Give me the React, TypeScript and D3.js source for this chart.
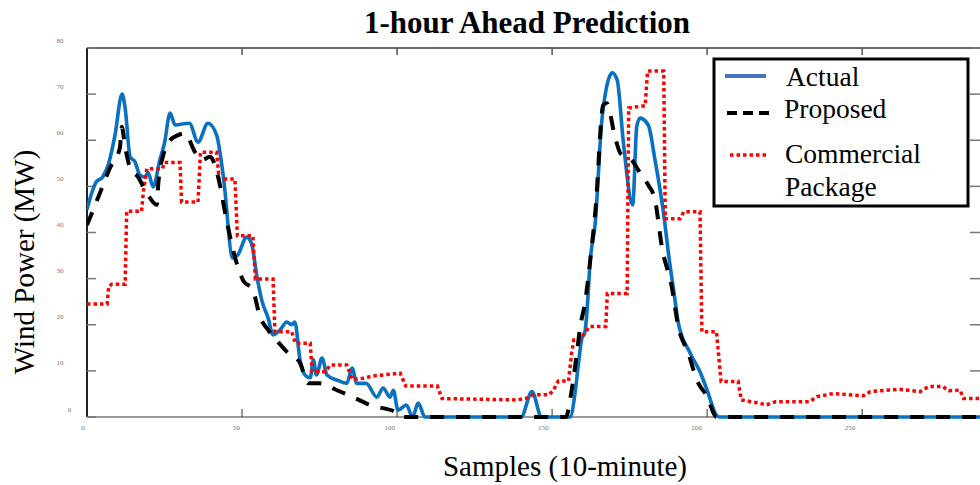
import React from "react";
import * as d3 from "d3";

// ---- Data (sample index, MW) ----
const actualX = [0, 1.5, 3, 5, 7, 9, 11.3, 12.3, 13.9, 15.5, 17, 18.7, 19.7, 21.3, 23.5, 25, 26.8, 28.4, 33, 35.8, 39, 41.8, 44, 47, 48.6, 51.5, 53, 55, 56.5, 58.4, 60, 62.3, 64.4, 66, 67, 68.7, 70.3, 72, 73, 74, 75.8, 77.4, 80.6, 83.8, 85.5, 87, 90, 93.5, 95.5, 97.7, 98.8, 100.3, 103, 105, 106.8, 109, 140, 143.5, 146.6, 155.8, 157.4, 158.5, 159.6, 160.6, 161.2, 162.3, 163.9, 166, 167.6, 169.4, 171, 173, 176, 177.3, 178.4, 181, 183.2, 185.8, 188, 189.3, 190.7, 194.5, 197.7, 200, 203, 204, 288];
const actualY = [45, 48.5, 51, 52, 55, 61, 70, 67, 56.4, 55.3, 52.5, 52, 53, 49.9, 55.7, 59.4, 65.9, 63.3, 63.7, 59.6, 63.7, 61.1, 52, 34.5, 35.1, 39, 37.7, 29.7, 25, 21.5, 17.8, 18.9, 20.6, 20, 20.6, 12.4, 9.1, 8.5, 12.4, 9.1, 12.8, 9.1, 8, 7.3, 10.6, 7.3, 7.3, 4.3, 6.3, 4.3, 5.8, 1.5, 2.6, 0, 3, 0, 0, 5.5, 0, 0, 5.2, 11.6, 17.1, 18.5, 22.5, 34, 42, 64, 71.6, 74.6, 73, 59.4, 46, 63, 64.8, 63.3, 55.7, 44.9, 33, 27, 20.4, 13.9, 9.8, 5.8, 0.4, 0, 0];

const proposedX = [0, 4.2, 7.4, 10.6, 11.2, 12.3, 13.9, 16.5, 18.7, 20.3, 22.5, 23, 24.6, 26.8, 29, 31.6, 34.8, 37, 39.7, 42.3, 45, 47.7, 50.3, 53.5, 55.8, 58.4, 63, 64.5, 68.7, 71.3, 75, 80.6, 85.8, 91.3, 100, 102, 154.5, 155.8, 156.8, 158, 159, 160.6, 162.3, 164, 166.5, 167.6, 170.3, 172, 175.7, 178.4, 181, 183.2, 185.4, 188.6, 190.7, 193.9, 196.7, 200, 203, 288];
const proposedY = [41.6, 48.6, 54, 58.3, 62.9, 58.6, 54, 52, 49.2, 47.5, 46, 50.7, 56.8, 60, 61, 61.5, 57.5, 55.7, 56.4, 52, 42.7, 34.7, 29.7, 27.5, 21.7, 18.9, 15.2, 14.1, 11.7, 7.3, 7.3, 5.8, 4.3, 2.6, 0.9, 0, 0, 3.7, 8, 13.9, 19.3, 24.7, 34, 45, 67.6, 68, 60.7, 57.2, 55.7, 52.9, 50.3, 47, 36.9, 28.2, 19.6, 13.9, 8, 4.4, 0, 0];

const commercialX = [0, 6.5, 7, 8, 12.3, 12.8, 17.6, 18.2, 19.3, 24.3, 25, 30, 30.5, 35.8, 36.6, 41.8, 42.6, 47.7, 48.5, 53.5, 54.3, 60, 60.6, 66, 67.2, 72, 72.6, 76.8, 78.5, 83.8, 85.5, 89, 92.3, 101, 102.8, 113, 114.5, 138.6, 142, 144, 149, 150.4, 152, 155.3, 156.3, 157, 159, 160.6, 162, 167.3, 167.8, 174.2, 174.7, 180, 180.8, 186, 186.5, 191.3, 192.5, 197.7, 198.3, 203, 204.5, 210, 211, 217, 219, 222, 233, 235.4, 240.8, 250.4, 252.6, 262, 268.7, 271.4, 276, 277.9, 281.6, 282.7, 288];
const commercialY = [24.5, 24.5, 28.3, 28.8, 28.8, 44.6, 44.6, 49, 53.8, 53.8, 55.2, 55.2, 46.6, 46.6, 57.4, 57.4, 51.6, 51.6, 39.3, 39.3, 29.9, 29.9, 18.5, 18.5, 16, 16, 9.8, 9.8, 11.3, 11.3, 8.2, 8.4, 8.9, 9.5, 6.7, 6.7, 4, 3.7, 4.1, 4.8, 4.8, 5.8, 7.8, 7.8, 13.9, 16.7, 16.7, 18.2, 19.6, 19.6, 26.8, 26.8, 67, 67.5, 75, 75, 43, 43, 44.5, 44.5, 18.5, 18.5, 7.7, 7.7, 3.7, 3, 2.6, 3.3, 3.3, 4.4, 5.1, 4.6, 5.5, 6, 5.5, 6.6, 6.6, 5.7, 5.8, 4, 4];

const xTicks = [0, 50, 100, 150, 200, 250];
const yTicks = [0, 10, 20, 30, 40, 50, 60, 70, 80];
const legendLabels = ["Actual", "Proposed", "Commercial", "Package"];
const titleText = "1-hour Ahead Prediction";
const xLabel = "Samples (10-minute)";
const yLabel = "Wind Power (MW)";

const W = 980;
const H = 485;
const L = 87, R = 980, T = 48, B = 417;

export default function App() {
  const x = d3.scaleLinear().domain([0, 288]).range([L, R]);
  const y = d3.scaleLinear().domain([0, 80]).range([B, T]);
  // tick labels in the source are slightly offset from ticks
  const xLab = d3.scaleLinear().domain([0, 250]).range([83, 850]);

  const mk = (xs: number[], ys: number[], curve: d3.CurveFactory) =>
    d3
      .line<number>()
      .x((_, i) => x(xs[i]))
      .y((v) => y(v))
      .curve(curve)(ys) || "";

  const actualPath = mk(actualX, actualY, d3.curveMonotoneX);
  const proposedPath = mk(proposedX, proposedY, d3.curveMonotoneX);
  const commercialPath = mk(commercialX, commercialY, d3.curveLinear);

  const serif = "'Liberation Serif', 'Times New Roman', serif";

  return (
    <svg
      width={W}
      height={H}
      style={{ position: "absolute", left: 0, top: 0, display: "block", background: "#fff" }}
      fontFamily={serif}
    >
      <defs>
        <clipPath id="plotclip">
          <rect x={L} y={T - 2} width={R - L + 2} height={B - T + 4} />
        </clipPath>
      </defs>
      <rect x={0} y={0} width={W} height={H} fill="#fff" />

      {/* axes box */}
      <line x1={L} y1={T} x2={R} y2={T} stroke="#333" strokeWidth={1.5} />
      <line x1={L} y1={T} x2={L} y2={B} stroke="#222" strokeWidth={2} />
      <line x1={L} y1={B} x2={R} y2={B} stroke="#777" strokeWidth={1.5} />

      {/* y ticks left & right */}
      {yTicks.map((t) => (
        <g key={"yt" + t}>
          <line x1={L} x2={L + 9} y1={y(t)} y2={y(t)} stroke="#777" strokeWidth={1.5} />
          <line x1={R - 10} x2={R} y1={y(t)} y2={y(t)} stroke="#777" strokeWidth={1.5} />
          <text
            x={t === 0 ? 69.5 : 60}
            y={y(t) - 7}
            fontSize={7}
            fill="#777"
            textAnchor="middle"
            dominantBaseline="middle"
          >
            {t}
          </text>
        </g>
      ))}

      {/* x ticks bottom & top */}
      {xTicks.map((t) => (
        <g key={"xt" + t}>
          {t > 0 && (
            <>
              <line x1={x(t)} x2={x(t)} y1={B} y2={B - 8} stroke="#333" strokeWidth={1} />
              <line x1={x(t)} x2={x(t)} y1={T} y2={T + 7} stroke="#555" strokeWidth={1.5} />
            </>
          )}
          <text x={xLab(t)} y={430} fontSize={7} fill="#777" textAnchor="middle">
            {t}
          </text>
        </g>
      ))}

      {/* series */}
      <g clipPath="url(#plotclip)">
        <path d={actualPath} fill="none" stroke="#0a71c0" strokeWidth={3.6} strokeLinejoin="round" />
        <path
          d={commercialPath}
          fill="none"
          stroke="#ff0000"
          strokeWidth={3.5}
          strokeDasharray="3.5 3"
        />
        <path
          d={proposedPath}
          fill="none"
          stroke="#000"
          strokeWidth={4}
          strokeDasharray="14 12"
        />
      </g>

      {/* title */}
      <text x={527} y={33} fontSize={31} fontWeight="bold" textAnchor="middle" fill="#000">
        {titleText}
      </text>

      {/* axis labels */}
      <text x={565} y={476} fontSize={29} textAnchor="middle" fill="#000">
        {xLabel}
      </text>
      <text
        transform={`translate(34, 262) rotate(-90)`}
        fontSize={29}
        textAnchor="middle"
        fill="#000"
      >
        {yLabel}
      </text>

      {/* legend */}
      <g>
        <rect x={714} y={59} width={254} height={147} fill="#fff" stroke="#000" strokeWidth={3} />
        <line x1={725} x2={766} y1={76} y2={76} stroke="#4472c4" strokeWidth={4} />
        <line x1={727} x2={770} y1={113} y2={113} stroke="#000" strokeWidth={4} strokeDasharray="10 6" />
        <line x1={730} x2={767} y1={155} y2={155} stroke="#ff0000" strokeWidth={3.5} strokeDasharray="3.5 3" />
        <text x={786} y={86} fontSize={27.5} fill="#000">{legendLabels[0]}</text>
        <text x={784} y={118} fontSize={27.5} fill="#000">{legendLabels[1]}</text>
        <text x={785} y={163} fontSize={27.5} fill="#000">{legendLabels[2]}</text>
        <text x={785} y={196} fontSize={27.5} fill="#000">{legendLabels[3]}</text>
      </g>
    </svg>
  );
}
